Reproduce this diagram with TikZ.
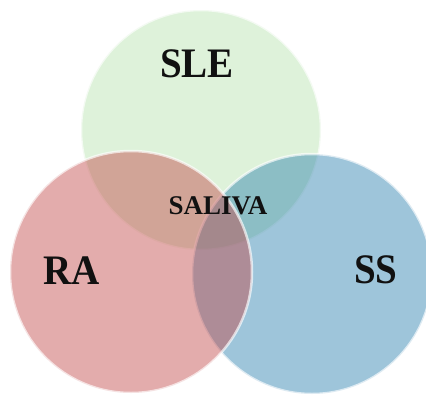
\documentclass[tikz,border=0pt]{standalone}
\usepackage{fontspec}
\setmainfont{Liberation Serif}
\definecolor{cgreen}{RGB}{184,227,173}
\definecolor{cred}{RGB}{195,71,71}
\definecolor{cblue}{RGB}{42,127,173}
\definecolor{ctext}{RGB}{17,17,17}
\begin{document}
\begin{tikzpicture}[x=1pt,y=-1pt,
  setcircle/.style={fill opacity=0.45, draw=white, draw opacity=0.65, line width=2.5pt},
  biglabel/.style={inner sep=0pt, text=ctext, font=\bfseries\fontsize{42}{42}\selectfont, xscale=0.93},
  midlabel/.style={inner sep=0pt, text=ctext, font=\bfseries\fontsize{27}{27}\selectfont}]
\useasboundingbox (0,0) rectangle (426,394);
\fill[white] (0,0) rectangle (426,394);
\begin{scope}
\clip (0,0) rectangle (426,394);
\path[setcircle, fill=cgreen] (201,130) circle[radius=120];
\path[setcircle, fill=cblue] (312,274) circle[radius=120];
\path[setcircle, fill=cred] (131,272) circle[radius=121];
\end{scope}
\node[biglabel] (sle) at (197,64) {SLE};
\node[biglabel] (ra) at (72,271) {RA};
\node[biglabel] (ss) at (376,270) {SS};
\node[midlabel] (saliva) at (218,206) {SALIVA};
\end{tikzpicture}
\end{document}
